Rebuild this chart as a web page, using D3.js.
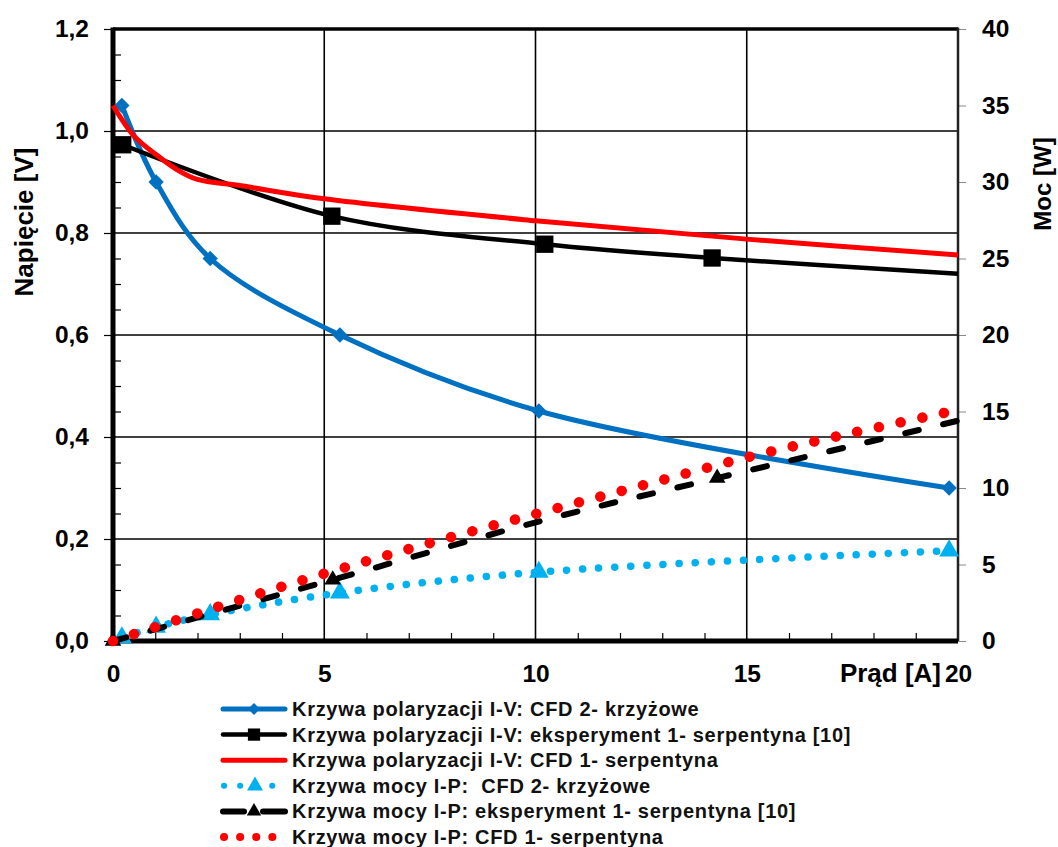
<!DOCTYPE html>
<html>
<head>
<meta charset="utf-8">
<script src="https://cdn.jsdelivr.net/npm/d3@7"></script>
<style>
  body { margin: 0; background: #fff; }
  text { font-family: "Liberation Sans", Arial, sans-serif; fill: #000; }
  .tick-label { font-size: 24.5px; font-weight: bold; }
  .axis-title { font-size: 26px; font-weight: bold; }
  .legend { font-size: 20px; font-weight: bold; letter-spacing: 0.7px; white-space: pre; fill: #111; }
</style>
</head>
<body>
<div id="chart"></div>
<script>
// Chart size
var svgWidth = 1058;
var svgHeight = 847;
var plot = { l: 113, r: 958, t: 29, b: 641 };

// Axis ticks
var xTicks = [0, 5, 10, 15, 20];
var yLeftTicks = [0, 0.2, 0.4, 0.6, 0.8, 1.0, 1.2];
var yRightTicks = [0, 5, 10, 15, 20, 25, 30, 35, 40];

// Polarization curves (current [A], voltage [V])
var blueV = [[0.21, 1.05], [1.02, 0.90], [2.3, 0.75], [5.37, 0.60], [10.08, 0.451], [19.79, 0.30]];
var blackV = [[0.23, 0.973], [5.18, 0.833], [10.22, 0.778], [14.18, 0.751], [20, 0.72]];
var blackVMarked = [true, true, true, true, false];
var redV = [[0, 1.05], [0.5, 0.99], [1, 0.955], [1.5, 0.925], [2, 0.905], [3, 0.893], [5, 0.867], [10, 0.824], [15, 0.788], [20, 0.757]];

// Power curves (current [A], power [W])
var blueP = [[0.21, 0.22], [1.02, 0.92], [2.3, 1.73], [5.37, 3.15], [10.08, 4.5], [19.79, 5.9]];
var blackP = [[0, 0], [5.2, 4.0], [10.2, 7.9], [14.3, 10.65], [20, 14.4]];
var blackPMarked = [true, true, false, true, false];
var redP = [[0, 0], [2.5, 2.25], [5, 4.4], [7.5, 6.4], [10, 8.3], [12.5, 10.15], [15, 12.0], [17.5, 13.6], [20, 15.1]];

// Legend labels
var legendLabels = [
  "Krzywa polaryzacji I-V: CFD 2- krzyżowe",
  "Krzywa polaryzacji I-V: eksperyment 1- serpentyna [10]",
  "Krzywa polaryzacji I-V: CFD 1- serpentyna",
  "Krzywa mocy I-P:  CFD 2- krzyżowe",
  "Krzywa mocy I-P: eksperyment 1- serpentyna [10]",
  "Krzywa mocy I-P: CFD 1- serpentyna"
];

var darkBlue = "#0070C0";
var lightBlue = "#00B0F0";
var red = "#FF0000";

var svg = d3.select("#chart")
  .append("svg")
  .attr("width", svgWidth)
  .attr("height", svgHeight);

// Scales
var xScale = d3.scaleLinear().domain([0, 20]).range([plot.l, plot.r]);
var yLeft = d3.scaleLinear().domain([0, 1.2]).range([plot.b, plot.t]);
var yRight = d3.scaleLinear().domain([0, 40]).range([plot.b, plot.t]);

var comma = d => d3.format(".1f")(d).replace(".", ",");

// Gridlines
var grid = svg.append("g");
grid.selectAll(".hgrid")
  .data(yLeftTicks.filter(d => d > 0 && d < 1.2))
  .enter().append("line")
  .attr("x1", plot.l).attr("x2", plot.r)
  .attr("y1", d => yLeft(d)).attr("y2", d => yLeft(d))
  .attr("stroke", "#000").attr("stroke-width", 1.6);
grid.selectAll(".vgrid")
  .data(xTicks.filter(d => d > 0 && d < 20))
  .enter().append("line")
  .attr("x1", d => xScale(d)).attr("x2", d => xScale(d))
  .attr("y1", plot.t).attr("y2", plot.b)
  .attr("stroke", "#000").attr("stroke-width", 1.6);

// Left axis: major ticks outside, minor inside
var leftAxis = svg.append("g").attr("transform", `translate(${plot.l},0)`)
  .call(d3.axisLeft(yLeft).tickValues(yLeftTicks).tickSize(9).tickFormat(comma));
leftAxis.select(".domain").remove();
leftAxis.selectAll(".tick line").attr("stroke-width", 1.2);
leftAxis.selectAll(".tick text").attr("class", "tick-label").attr("x", -24);

var leftMinor = svg.append("g").attr("transform", `translate(${plot.l},0)`)
  .call(d3.axisRight(yLeft).tickValues(d3.range(0, 1.2, 0.05).filter((d, i) => i % 4 != 0)).tickSize(8).tickFormat(""));
leftMinor.select(".domain").remove();
leftMinor.selectAll(".tick line").attr("stroke-width", 1.2);

// Bottom axis minor ticks (inside)
var bottomMinor = svg.append("g").attr("transform", `translate(0,${plot.b})`)
  .call(d3.axisTop(xScale).tickValues(d3.range(1, 20).filter(d => d % 5 != 0)).tickSize(8).tickFormat(""));
bottomMinor.select(".domain").remove();
bottomMinor.selectAll(".tick line").attr("stroke-width", 1.2);

// Bottom tick labels
var bottomAxis = svg.append("g").attr("transform", `translate(0,${plot.b})`)
  .call(d3.axisBottom(xScale).tickValues(xTicks).tickSize(0).tickPadding(24).tickFormat(d3.format("d")));
bottomAxis.select(".domain").remove();
bottomAxis.selectAll(".tick text").attr("class", "tick-label");

// Right axis
var rightAxis = svg.append("g").attr("transform", `translate(${plot.r},0)`)
  .call(d3.axisRight(yRight).tickValues(yRightTicks).tickSize(8).tickPadding(16));
rightAxis.select(".domain").remove();
rightAxis.selectAll(".tick line").attr("stroke", "#888").attr("stroke-width", 1);
rightAxis.selectAll(".tick text").attr("class", "tick-label").attr("x", 24);

// Frame
svg.append("line").attr("x1", plot.l).attr("x2", plot.r).attr("y1", plot.t).attr("y2", plot.t)
  .attr("stroke", "#000").attr("stroke-width", 3.5);
svg.append("line").attr("x1", plot.r).attr("x2", plot.r).attr("y1", plot.t - 1.5).attr("y2", plot.b)
  .attr("stroke", "#222").attr("stroke-width", 2.5);
svg.append("line").attr("x1", plot.l).attr("x2", plot.l).attr("y1", plot.t - 1.5).attr("y2", plot.b + 2.5)
  .attr("stroke", "#000").attr("stroke-width", 5);
svg.append("line").attr("x1", plot.l).attr("x2", plot.r).attr("y1", plot.b).attr("y2", plot.b)
  .attr("stroke", "#000").attr("stroke-width", 5);

// Axis titles
svg.append("text").attr("class", "axis-title")
  .attr("transform", "translate(33,222) rotate(-90)")
  .attr("text-anchor", "middle").text("Napięcie [V]");
svg.append("text").attr("class", "axis-title")
  .attr("transform", "translate(1051,184) rotate(-90)")
  .attr("text-anchor", "middle").style("font-size", "24px").text("Moc [W]");
svg.append("text").attr("class", "axis-title")
  .attr("x", 941).attr("y", 682)
  .attr("text-anchor", "end").text("Prąd [A]");

// Line generators
var lineV = d3.line().x(d => xScale(d[0])).y(d => yLeft(d[1])).curve(d3.curveCatmullRom.alpha(0.5));
var lineP = d3.line().x(d => xScale(d[0])).y(d => yRight(d[1])).curve(d3.curveCatmullRom.alpha(0.5));

// Marker shapes
var diamond = d3.symbol().type(d3.symbolDiamond2).size(150);
var square = d3.symbol().type(d3.symbolSquare).size(300);
var triangle = d3.symbol().type(d3.symbolTriangle).size(170);
var triangleSmall = d3.symbol().type(d3.symbolTriangle).size(120);

var series = svg.append("g");

// Blue polarization
series.append("path").datum(blueV).attr("d", lineV)
  .attr("fill", "none").attr("stroke", darkBlue).attr("stroke-width", 5);
series.selectAll(".bvm").data(blueV).enter().append("path")
  .attr("d", diamond)
  .attr("transform", d => `translate(${xScale(d[0])},${yLeft(d[1])})`)
  .attr("fill", darkBlue);

// Black polarization
series.append("path").datum(blackV).attr("d", lineV)
  .attr("fill", "none").attr("stroke", "#000").attr("stroke-width", 4.5);
series.selectAll(".kvm").data(blackV.filter((d, i) => blackVMarked[i])).enter().append("path")
  .attr("d", square)
  .attr("transform", d => `translate(${xScale(d[0])},${yLeft(d[1])})`)
  .attr("fill", "#000");

// Red polarization
series.append("path").datum(redV).attr("d", lineV)
  .attr("fill", "none").attr("stroke", red).attr("stroke-width", 5);

// Blue power (dotted)
series.append("path").datum(blueP).attr("d", lineP)
  .attr("fill", "none").attr("stroke", lightBlue).attr("stroke-width", 7.5)
  .attr("stroke-linecap", "round").attr("stroke-dasharray", "0.1 16");
series.selectAll(".bpm").data(blueP).enter().append("path")
  .attr("d", triangle)
  .attr("transform", d => `translate(${xScale(d[0])},${yRight(d[1])})`)
  .attr("fill", lightBlue);

// Black power (dashed)
series.append("path").datum(blackP).attr("d", lineP)
  .attr("fill", "none").attr("stroke", "#000").attr("stroke-width", 6)
  .attr("stroke-linecap", "round").attr("stroke-dasharray", "14 25");
series.selectAll(".kpm").data(blackP.filter((d, i) => blackPMarked[i])).enter().append("path")
  .attr("d", triangleSmall)
  .attr("transform", d => `translate(${xScale(d[0])},${yRight(d[1])})`)
  .attr("fill", "#000");

// Red power (dotted)
series.append("path").datum(redP).attr("d", lineP)
  .attr("fill", "none").attr("stroke", red).attr("stroke-width", 10.5)
  .attr("stroke-linecap", "round").attr("stroke-dasharray", "0.1 22");

// Legend
var legend = svg.append("g");
var lx0 = 223, lx1 = 285, ly0 = 709, ldy = 25.6;
legendLabels.forEach(function (label, i) {
  var y = ly0 + i * ldy;
  var g = legend.append("g");
  if (i == 0) {
    g.append("line").attr("x1", lx0).attr("x2", lx1).attr("y1", y).attr("y2", y)
      .attr("stroke", darkBlue).attr("stroke-width", 5).attr("stroke-linecap", "round");
    g.append("path").attr("d", d3.symbol().type(d3.symbolDiamond2).size(90))
      .attr("transform", `translate(${(lx0 + lx1) / 2},${y})`).attr("fill", darkBlue);
  } else if (i == 1) {
    g.append("line").attr("x1", lx0).attr("x2", lx1).attr("y1", y).attr("y2", y)
      .attr("stroke", "#000").attr("stroke-width", 4.5).attr("stroke-linecap", "round");
    g.append("path").attr("d", d3.symbol().type(d3.symbolSquare).size(150))
      .attr("transform", `translate(${(lx0 + lx1) / 2},${y})`).attr("fill", "#000");
  } else if (i == 2) {
    g.append("line").attr("x1", lx0).attr("x2", lx1).attr("y1", y).attr("y2", y)
      .attr("stroke", red).attr("stroke-width", 5).attr("stroke-linecap", "round");
  } else if (i == 3) {
    g.append("line").attr("x1", lx0 + 1).attr("x2", lx1).attr("y1", y).attr("y2", y)
      .attr("stroke", lightBlue).attr("stroke-width", 6).attr("stroke-linecap", "round")
      .attr("stroke-dasharray", "0.1 16 0.1 32 0.1 50");
    g.append("path").attr("d", d3.symbol().type(d3.symbolTriangle).size(110))
      .attr("transform", `translate(${(lx0 + lx1) / 2 + 1},${y})`).attr("fill", lightBlue);
  } else if (i == 4) {
    g.append("line").attr("x1", lx0).attr("x2", lx0 + 21).attr("y1", y).attr("y2", y)
      .attr("stroke", "#000").attr("stroke-width", 6).attr("stroke-linecap", "round");
    g.append("line").attr("x1", lx1 - 22).attr("x2", lx1).attr("y1", y).attr("y2", y)
      .attr("stroke", "#000").attr("stroke-width", 6).attr("stroke-linecap", "round");
    g.append("path").attr("d", d3.symbol().type(d3.symbolTriangle).size(90))
      .attr("transform", `translate(${(lx0 + lx1) / 2},${y})`).attr("fill", "#000");
  } else {
    g.append("line").attr("x1", lx0 + 1).attr("x2", lx1).attr("y1", y).attr("y2", y)
      .attr("stroke", red).attr("stroke-width", 8).attr("stroke-linecap", "round")
      .attr("stroke-dasharray", "0.1 16");
  }
  g.append("text").attr("class", "legend")
    .attr("x", 292).attr("y", y + 7)
    .text(label);
});
</script>
</body>
</html>
